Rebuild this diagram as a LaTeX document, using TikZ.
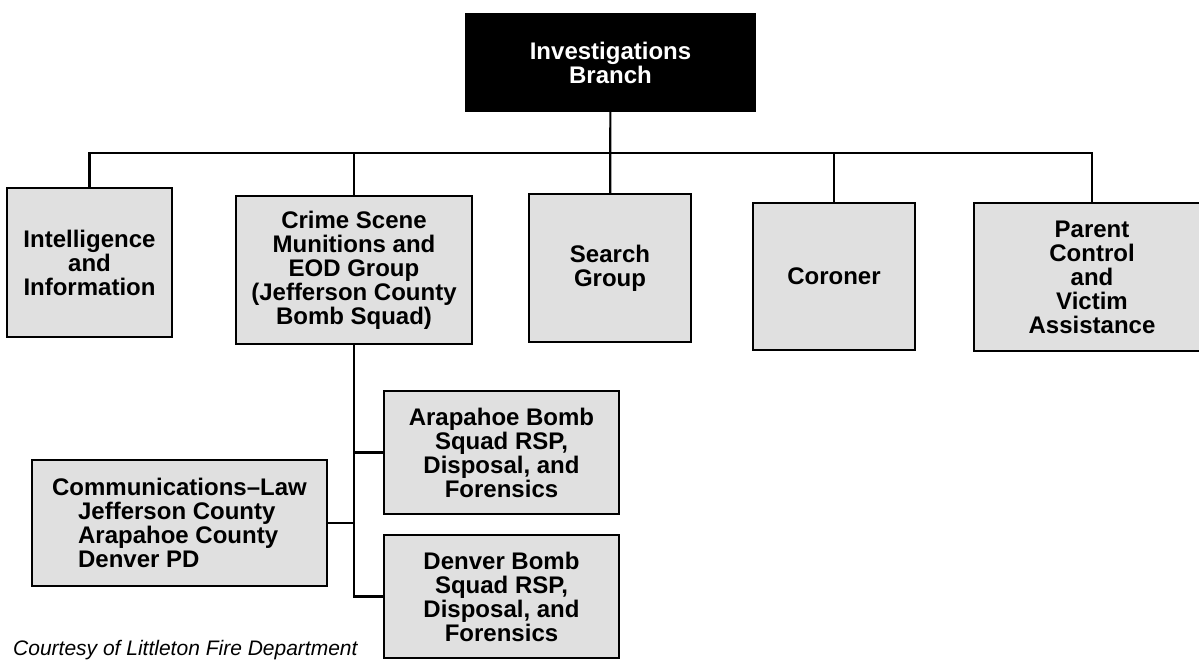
\documentclass[tikz,border=0pt]{standalone}
\usepackage{fontspec}
\setmainfont{Liberation Sans}
\usetikzlibrary{calc}
\definecolor{boxgray}{gray}{0.88}

\begin{document}
\begin{tikzpicture}[x=1pt,y=-1pt]
  \tikzset{unit/.style={shape=rectangle,draw,line width=2.4pt,fill=boxgray,text centered,align=center,inner sep=0pt,font=\bfseries\fontsize{24}{24}\selectfont},
    head/.style={unit,fill=black,text=white}};
  \useasboundingbox (0,0) rectangle (1199,661);
  \clip (0,0) rectangle (1199,661);
  \node[head,minimum width=289pt,minimum height=97pt] (IB) at (610.5,62.5) {Investigations\\Branch};
  \node[unit,minimum width=165pt,minimum height=149pt] (II) at (89.5,262.5) {Intelligence\\and\\Information};
  \node[unit,minimum width=236pt,minimum height=148pt] (CS) at (354,270) {Crime Scene\\Munitions and\\EOD Group\\(Jefferson County\\Bomb Squad)};
  \node[unit,minimum width=162pt,minimum height=148pt] (SG) at (610,268) {Search\\Group};
  \node[unit,minimum width=162pt,minimum height=147pt] (CO) at (834,276.5) {Coroner};
  \node[unit,minimum width=236pt,minimum height=148pt] (PC) at (1092,277) {Parent\\Control\\and\\Victim\\Assistance};
  \node[unit,minimum width=235pt,minimum height=123pt] (AB) at (501.5,452.5) {Arapahoe Bomb\\Squad RSP,\\Disposal, and\\Forensics};
  \node[unit,minimum width=235pt,minimum height=123pt] (DB) at (501.5,596.5) {Denver Bomb\\Squad RSP,\\Disposal, and\\Forensics};
  \node[unit,align=left,minimum width=295pt,minimum height=126pt] (CL) at (179.5,523) {Communications--Law\\\hspace*{26pt}Jefferson County\\\hspace*{26pt}Arapahoe County\\\hspace*{26pt}Denver PD};
  \node[anchor=base west,inner sep=0pt,font=\itshape\fontsize{21}{21}\selectfont] (LF) at (13,655) {Courtesy of Littleton Fire Department};
  \coordinate (bus) at (610,153);
  \draw[line width=2.2pt] (IB) -- (SG);
  \draw[line width=2.2pt] (II.north) -- (II.north |- bus) -- (PC.north |- bus) -- (PC.north);
  \draw[line width=2.2pt] (CS.north) -- (CS.north |- bus);
  \draw[line width=2.2pt] (CO.north) -- (CO.north |- bus);
  \draw[line width=2.2pt] (CS.south) -- (CS.south |- DB.west) -- (DB.west);
  \draw[line width=2.2pt] (AB.west) -- (CS.south |- AB.west);
  \draw[line width=2.2pt] (CL.east) -- (CS.south |- CL.east);
\end{tikzpicture}
\end{document}
